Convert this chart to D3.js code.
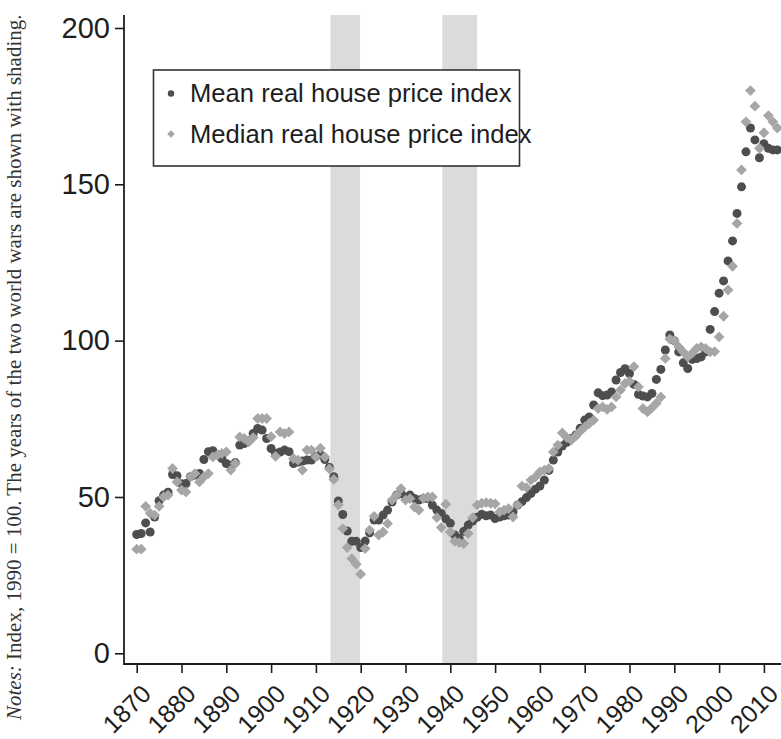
<!DOCTYPE html>
<html>
<head>
<meta charset="utf-8">
<script src="https://cdn.jsdelivr.net/npm/d3@7/dist/d3.min.js"></script>
<style>
  html, body { margin: 0; padding: 0; background: #fff; }
  svg { display: block; }
</style>
</head>
<body>
<svg id="chart" width="781" height="739"></svg>
<script>
// ---------- data ----------
const firstYear = 1870;
const meanIndex = [
  38.0, 38.3, 41.7, 38.8, 43.6, 48.8, 50.6, 51.5, 57.2, 56.8,   // 1870-1879
  54.2, 54.3, 56.5, 57.0, 57.5, 62.0, 64.5, 64.8, 63.5, 62.3,   // 1880-1889
  60.7, 60.0, 61.0, 66.6, 67.1, 68.0, 70.3, 71.9, 71.4, 68.7,   // 1890-1899
  65.5, 64.0, 64.4, 65.0, 64.5, 60.7, 61.2, 61.5, 61.8, 61.8,   // 1900-1909
  63.0, 63.5, 62.0, 59.5, 56.5, 48.7, 44.4, 39.1, 35.8, 35.8,   // 1910-1919
  33.8, 35.9, 38.5, 42.6, 42.6, 44.2, 45.8, 48.4, 50.6, 51.1,   // 1920-1929
  50.0, 50.6, 49.5, 49.0, 49.5, 49.5, 47.4, 45.8, 44.7, 43.0,   // 1930-1939
  41.6, 37.8, 36.7, 39.0, 41.0, 42.3, 43.5, 44.5, 44.0, 44.2,   // 1940-1949
  43.1, 43.6, 44.0, 44.2, 45.2, 47.4, 48.5, 49.8, 51.1, 52.5,   // 1950-1959
  53.5, 55.4, 58.5, 61.8, 64.4, 66.3, 67.5, 68.7, 69.8, 72.0,   // 1960-1969
  74.6, 75.6, 79.4, 83.3, 82.4, 82.6, 83.6, 87.4, 89.8, 91.0,   // 1970-1979
  89.5, 86.0, 82.8, 82.3, 82.0, 83.1, 87.6, 90.8, 97.0, 101.8,  // 1980-1989
  100.0, 96.4, 92.9, 91.1, 94.0, 94.3, 94.8, 96.4, 103.6, 109.3, // 1990-1999
  115.2, 119.1, 125.5, 131.9, 140.7, 149.2, 160.4, 168.0, 164.2, 158.5, // 2000-2009
  163.0, 161.5, 161.0, 161.0                                     // 2010-2013
];
const medianIndex = [
  33.3, 33.3, 47.0, 44.8, 44.2, 47.0, 50.0, 50.6, 59.1, 54.8,   // 1870-1879
  52.2, 51.6, 56.4, 57.5, 54.8, 56.4, 57.5, 62.8, 63.4, 63.9,   // 1880-1889
  64.4, 58.6, 60.7, 69.2, 68.7, 67.6, 69.0, 75.1, 75.1, 75.1,   // 1890-1899
  69.3, 63.0, 70.8, 70.3, 70.8, 62.3, 61.8, 58.6, 65.0, 65.0,   // 1900-1909
  62.8, 65.6, 62.8, 59.0, 55.6, 47.5, 39.9, 33.8, 30.3, 28.5,   // 1910-1919
  25.3, 33.5, 39.4, 43.8, 37.8, 38.8, 41.5, 49.0, 50.6, 52.7,   // 1920-1929
  49.0, 49.5, 46.8, 45.8, 49.6, 50.0, 50.0, 43.4, 40.2, 47.7,   // 1930-1939
  38.8, 35.8, 35.4, 35.1, 38.3, 43.4, 47.4, 48.0, 48.2, 48.0,   // 1940-1949
  47.8, 45.2, 45.8, 46.3, 43.6, 47.4, 53.5, 53.0, 55.4, 56.4,   // 1950-1959
  58.0, 58.6, 59.1, 64.4, 66.6, 70.5, 69.0, 68.2, 69.5, 71.0,   // 1960-1969
  72.4, 73.5, 74.6, 78.3, 78.8, 78.0, 78.8, 82.0, 84.2, 86.3,   // 1970-1979
  87.0, 91.7, 85.2, 78.3, 77.2, 78.5, 80.0, 82.0, 94.3, 100.5,  // 1980-1989
  100.0, 98.0, 96.4, 94.8, 96.0, 97.5, 98.0, 97.5, 96.4, 96.5,  // 1990-1999
  101.2, 107.8, 116.2, 123.8, 137.5, 154.6, 170.0, 180.0, 175.0, 161.5, // 2000-2009
  166.5, 172.0, 170.0, 168.0                                     // 2010-2013
];
const years = meanIndex.map((_, i) => firstYear + i);
const warStart = [1913.25, 1938.2];
const warEnd   = [1919.85, 1946.0];
const xTicks = [1870, 1880, 1890, 1900, 1910, 1920, 1930, 1940, 1950, 1960, 1970, 1980, 1990, 2000, 2010];
const yTicks = [0, 50, 100, 150, 200];
const legendLabels = ["Mean real house price index", "Median real house price index"];
const noteItalic = "Notes:";
const noteText = " Index, 1990 = 100. The years of the two world wars are shown with shading.";

// ---------- layout ----------
const svg = d3.select("#chart");
const W = 781, H = 739;
const x = d3.scaleLinear().domain([1870, 2010]).range([136.7, 763.9]);
const y = d3.scaleLinear().domain([0, 200]).range([653.3, 28]);
const axisY = 124;      // x position of y-axis line
const axisX = 664;      // y position of x-axis line
const plotTop = 15;

const darkCol = "#4e4e4e", lightCol = "#a6a6a6", shadeCol = "#dadbdb", inkCol = "#1e1e1e";
const sans = "'Liberation Sans', Arial, Helvetica, sans-serif";

svg.append("defs").append("clipPath").attr("id", "clip")
  .append("rect").attr("x", axisY + 1).attr("y", 0).attr("width", W - axisY).attr("height", axisX);

// shading
svg.append("g").selectAll("rect").data(warStart).join("rect")
  .attr("x", (d) => x(d))
  .attr("width", (d, i) => x(warEnd[i]) - x(d))
  .attr("y", plotTop)
  .attr("height", axisX - plotTop)
  .attr("fill", shadeCol);

// y axis
const yAxis = d3.axisLeft(y).tickValues(yTicks).tickSize(9).tickPadding(5).tickSizeOuter(0);
const gy = svg.append("g").attr("transform", `translate(${axisY},0)`).call(yAxis);
gy.select(".domain").remove();
gy.append("line").attr("x1", 0).attr("x2", 0).attr("y1", plotTop).attr("y2", axisX + 0.5)
  .attr("stroke", inkCol).attr("stroke-width", 1.8);
gy.selectAll(".tick line").attr("stroke", inkCol).attr("stroke-width", 1.6);
gy.selectAll(".tick text").attr("fill", inkCol)
  .style("font-family", sans)
  .style("font-size", "29px");

// x axis
const xAxis = d3.axisBottom(x).tickValues(xTicks).tickSize(9).tickFormat(d3.format("d")).tickSizeOuter(0);
const gx = svg.append("g").attr("transform", `translate(0,${axisX})`).call(xAxis);
gx.select(".domain").remove();
gx.append("line").attr("x1", axisY - 0.9).attr("x2", W).attr("y1", 0).attr("y2", 0)
  .attr("stroke", inkCol).attr("stroke-width", 1.8);
gx.selectAll(".tick line").attr("stroke", inkCol).attr("stroke-width", 1.6);
gx.selectAll(".tick text").attr("fill", inkCol)
  .style("font-family", sans)
  .style("font-size", "25px")
  .attr("text-anchor", "end")
  .attr("dy", null)
  .attr("y", 0)
  .attr("dominant-baseline", "central")
  .attr("transform", "translate(9,25) rotate(-45)");

// points
const pts = svg.append("g").attr("clip-path", "url(#clip)");
pts.selectAll("circle").data(years).join("circle")
  .attr("cx", (d) => x(d))
  .attr("cy", (d, i) => y(meanIndex[i]))
  .attr("r", 4.5)
  .attr("fill", darkCol);
const diamond = (s) => `M0,${-s}L${s},0L0,${s}L${-s},0Z`;
pts.selectAll("path").data(years).join("path")
  .attr("transform", (d, i) => `translate(${x(d)},${y(medianIndex[i])})`)
  .attr("d", diamond(5.4))
  .attr("fill", lightCol);

// legend
const lg = svg.append("g");
lg.append("rect").attr("x", 153.5).attr("y", 70).attr("width", 366).attr("height", 96)
  .attr("fill", "#fff").attr("stroke", "#333").attr("stroke-width", 1.6);
lg.append("circle").attr("cx", 171).attr("cy", 93.5).attr("r", 3.2).attr("fill", darkCol);
lg.append("path").attr("transform", "translate(171,134)").attr("d", diamond(3.8)).attr("fill", lightCol);
lg.selectAll("text").data(legendLabels).join("text")
  .attr("x", 190)
  .attr("y", (d, i) => 102 + i * 41)
  .attr("fill", inkCol)
  .style("font-family", sans)
  .style("font-size", "25.6px")
  .text((d) => d);

// notes
const nt = svg.append("text")
  .attr("transform", "translate(21,720) rotate(-90)")
  .attr("fill", "#333")
  .style("font-family", "'Liberation Serif', 'Times New Roman', serif")
  .style("font-size", "21px");
nt.append("tspan").style("font-style", "italic").text(noteItalic);
nt.append("tspan").text(noteText);
</script>
</body>
</html>
